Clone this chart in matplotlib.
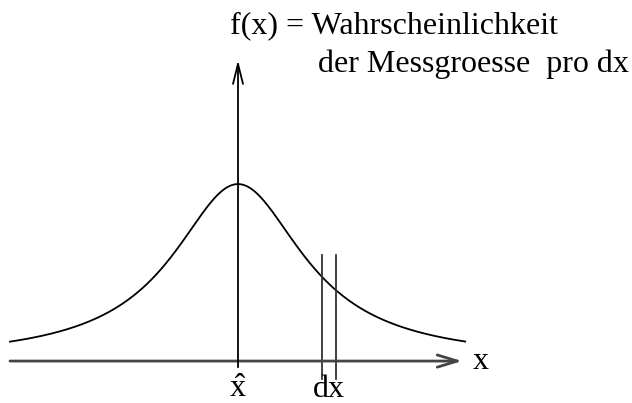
import numpy as np
import matplotlib
matplotlib.use("Agg")
import matplotlib.pyplot as plt

# Lorentz-shaped density around the best value x_hat (width gamma, peak height 1)
x_hat = 0.0
gamma = 1.0
peak = 1.0
curve_range = [-2.85, 2.84]
dx_edges = [1.05, 1.225]

axis_label = "x"
hat_label = r"$\hat{\mathrm{x}}$"
dx_label = "dx"
title_lines = ["f(x) = Wahrscheinlichkeit", "der Messgroesse  pro dx"]

plt.rcParams['font.family'] = ['Liberation Serif', 'DejaVu Serif']
plt.rcParams['mathtext.fontset'] = 'custom'
plt.rcParams['mathtext.rm'] = 'Liberation Serif'

fig = plt.figure(figsize=(6.32, 4.03), dpi=100)
ax = fig.add_axes([0, 0, 1, 1])
ax.set_xlim(-2.975, 4.925)
ax.set_ylim(-0.237, 2.04)
ax.axis('off')

xs = np.linspace(curve_range[0], curve_range[1], 600)
ys = peak / (1 + ((xs - x_hat) / gamma) ** 2)
ax.plot(xs, ys, color='black', lw=1.3)

# horizontal axis with open arrow head
ax.annotate('', xy=(2.8, 0), xytext=(-2.85, 0),
            arrowprops=dict(arrowstyle='->,head_length=0.72,head_width=0.22',
                            mutation_scale=20, lw=2.0, color='#444444',
                            shrinkA=0, shrinkB=0))
# vertical axis through x_hat
ax.annotate('', xy=(x_hat, 1.70), xytext=(x_hat, -0.035),
            arrowprops=dict(arrowstyle='->,head_length=0.72,head_width=0.18',
                            mutation_scale=20, lw=1.3, color='black',
                            shrinkA=0, shrinkB=0))

# interval dx
for e in dx_edges:
    ax.plot([e, e], [-0.1, 0.6], color='#333333', lw=1.3)

fs = 23
ax.text(2.94, 0.0, axis_label, fontsize=fs, ha='left', va='center')
ax.text(x_hat, -0.205, hat_label, fontsize=fs, ha='center', va='baseline')
ax.text(np.mean(dx_edges), -0.205, dx_label, fontsize=fs, ha='center', va='baseline')
ax.text(-0.1, 1.85, title_lines[0], fontsize=fs, ha='left', va='baseline')
ax.text(1.0, 1.635, title_lines[1], fontsize=fs, ha='left', va='baseline')

fig.savefig('out.png', dpi=100)
